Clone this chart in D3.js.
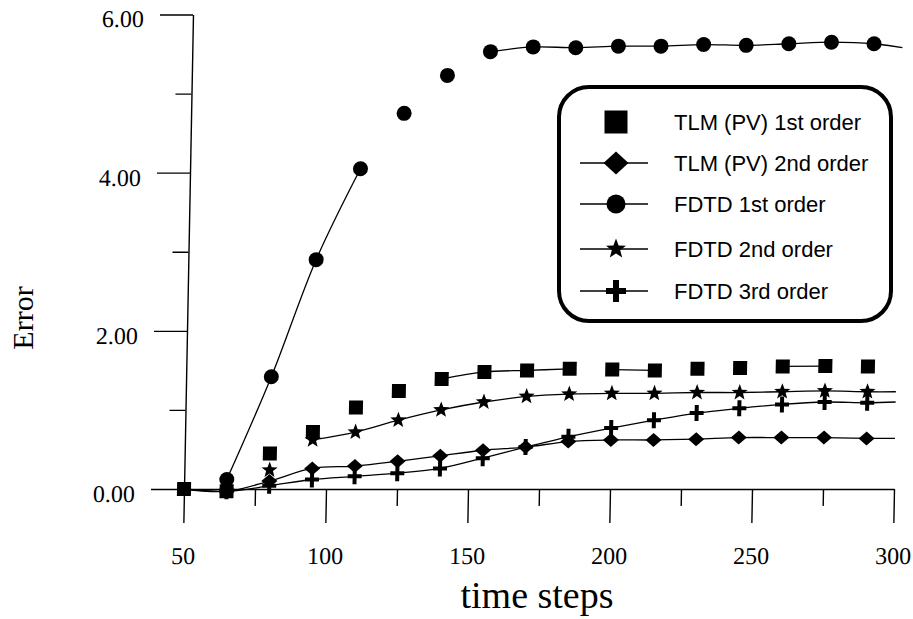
<!DOCTYPE html>
<html><head><meta charset="utf-8">
<script src="https://cdn.jsdelivr.net/npm/d3@7"></script>
<style>
html,body{margin:0;padding:0;background:#fff;}
svg{display:block;background:#fff;}
</style></head><body>
<svg id="chart" width="913" height="619"></svg>
<script>
// ---------------- data ----------------
const timeSteps = [50,65,80,95,110,125,140,155,170,185,200,215,230,245,260,275,290,300];
const tlm1  = [0,-0.03,0.45,0.72,1.03,1.24,1.39,1.48,1.50,1.52,1.51,1.50,1.52,1.53,1.55,1.555,1.55,1.55];
const tlm2  = [0,-0.03,0.10,0.26,0.29,0.35,0.42,0.49,0.53,0.60,0.62,0.62,0.63,0.65,0.65,0.65,0.64,0.64];
const fdtd1 = [0,0.12,1.42,2.90,4.05,4.75,5.23,5.53,5.59,5.58,5.60,5.60,5.62,5.61,5.63,5.65,5.63,5.58];
const fdtd2 = [0,-0.03,0.24,0.62,0.72,0.87,1.00,1.10,1.17,1.20,1.21,1.21,1.22,1.22,1.23,1.24,1.23,1.23];
const fdtd3 = [0,-0.03,0.04,0.12,0.16,0.20,0.26,0.39,0.53,0.66,0.77,0.87,0.96,1.02,1.07,1.10,1.09,1.10];
const seriesNames = ["TLM (PV) 1st order","TLM (PV) 2nd order","FDTD 1st order","FDTD 2nd order","FDTD 3rd order"];
// index ranges of the visible connecting line pieces (as printed)
const tlm1Runs  = [[6,9],[10,11],[14,15]];
const tlm2Runs  = [[0,17]];
const fdtd1Runs = [[1,4],[7,17]];
const fdtd2Runs = [[3,17]];
const fdtd3Runs = [[0,17]];
const markerFirst = [0,1,1,1,1];
const markerLast = 16;
const xTicksMajor = [50,100,150,200,250,300];
const xTicksMinor = [75,125,175,225,275];
const yTicksMajor = [0,2,4,6];
const yTicksMinor = [1,3,5];
const xTitle = "time steps";
const yTitle = "Error";

// ---------------- setup ----------------
const svg = d3.select("#chart");
const serif = "'Liberation Serif','Times New Roman',Times,serif";
const sans = "'Liberation Sans',Arial,Helvetica,sans-serif";

const x = d3.scaleLinear().domain([50,300]).range([184,894]);
const y = d3.scaleLinear().domain([0,6]).range([489,14.5]);

// scanned original is slightly sheared
const k = 9/475;
const skewDeg = Math.atan(k)*180/Math.PI;
const plot = svg.append("g")
  .attr("transform",`translate(${(y(0)*k).toFixed(2)},0) skewX(${(-skewDeg).toFixed(3)})`);

function styleAxis(g, size){
  g.attr("font-family", serif).attr("font-size", size);
  g.selectAll("path,line").attr("stroke","#000").attr("stroke-width",1.4);
  g.selectAll("text").attr("fill","#000");
}

// y axis
plot.append("g").attr("transform",`translate(${x(50)},0)`)
  .call(d3.axisLeft(y).tickValues(yTicksMajor).tickSize(33).tickSizeOuter(0).tickPadding(16).tickFormat(d3.format(".2f")))
  .call(g=>styleAxis(g,24))
  .call(g=>g.selectAll("text").attr("dy","0.52em"));
plot.append("g").attr("transform",`translate(${x(50)},0)`)
  .call(d3.axisLeft(y).tickValues(yTicksMinor).tickSize(16).tickFormat(""))
  .call(g=>g.select(".domain").remove())
  .call(g=>styleAxis(g,24));

// x axis
plot.append("g").attr("transform",`translate(0,${y(0)})`)
  .call(d3.axisBottom(x).tickValues(xTicksMajor).tickSize(34).tickSizeOuter(0).tickPadding(24).tickFormat(d3.format("d")))
  .call(g=>styleAxis(g,24));
plot.append("g").attr("transform",`translate(0,${y(0)})`)
  .call(d3.axisBottom(x).tickValues(xTicksMinor).tickSize(17).tickFormat(""))
  .call(g=>g.select(".domain").remove())
  .call(g=>styleAxis(g,24));

// ---------------- marker shapes ----------------
const shapes = {
  square: s => ({draw(c){ const h=s/2; c.rect(-h,-h,s,s);} }),
  diamond: (w,h) => ({draw(c){ c.moveTo(0,-h); c.lineTo(w,0); c.lineTo(0,h); c.lineTo(-w,0); c.closePath(); }}),
  circle: r => ({draw(c){ c.moveTo(r,0); c.arc(0,0,r,0,2*Math.PI); }}),
  star: R => ({draw(c){ const r=R*0.42; for(let i=0;i<10;i++){ const a=-Math.PI/2+i*Math.PI/5; const rr=i%2?r:R; const px=rr*Math.cos(a), py=rr*Math.sin(a); if(i===0) c.moveTo(px,py); else c.lineTo(px,py);} c.closePath(); }}),
  plus: (w,h,t) => ({draw(c){ c.moveTo(-t,-h); c.lineTo(t,-h); c.lineTo(t,-t); c.lineTo(w,-t); c.lineTo(w,t); c.lineTo(t,t); c.lineTo(t,h); c.lineTo(-t,h); c.lineTo(-t,t); c.lineTo(-w,t); c.lineTo(-w,-t); c.lineTo(-t,-t); c.closePath(); }})
};
const plotShapes = [shapes.square(14), shapes.diamond(8,7), shapes.circle(7.5), shapes.star(8.5), shapes.plus(7,8,2)];
const legendShapes = [shapes.square(23), shapes.diamond(12.5,11.5), shapes.circle(9.5), shapes.star(10.5), shapes.plus(10,11,3)];

const allSeries = [tlm1,tlm2,fdtd1,fdtd2,fdtd3];
const allRuns = [tlm1Runs,tlm2Runs,fdtd1Runs,fdtd2Runs,fdtd3Runs];

const line = vals => d3.line()
  .x(i=>x(timeSteps[i])).y(i=>y(vals[i]))
  .curve(d3.curveCatmullRom.alpha(0.5));

allSeries.forEach((vals,si)=>{
  const g = plot.append("g");
  allRuns[si].forEach(([a,b])=>{
    g.append("path").attr("d", line(vals)(d3.range(a,b+1)))
      .attr("fill","none").attr("stroke","#000").attr("stroke-width",1.3);
  });
  g.selectAll("path.m").data(d3.range(markerFirst[si], markerLast+1)).join("path")
    .attr("class","m")
    .attr("transform", i=>`translate(${x(timeSteps[i])},${y(vals[i])})`)
    .attr("d", d3.symbol().type(plotShapes[si]))
    .attr("fill","#000");
});

// ---------------- titles ----------------
svg.append("text").attr("x",537).attr("y",608).attr("text-anchor","middle")
  .attr("font-family",serif).attr("font-size",38).attr("fill","#000").text(xTitle);
svg.append("text").attr("transform","translate(33,318) rotate(-90)").attr("text-anchor","middle")
  .attr("font-family",serif).attr("font-size",30).attr("fill","#000").text(yTitle);

// ---------------- legend ----------------
const legend = svg.append("g");
legend.append("rect").attr("x",559).attr("y",87).attr("width",332).attr("height",234)
  .attr("rx",30).attr("ry",30).attr("fill","#fff").attr("stroke","#000").attr("stroke-width",4);
const legendRowY = [122,163,204,249,291];
seriesNames.forEach((name,i)=>{
  const yy = legendRowY[i];
  if(i>0){
    legend.append("line").attr("x1",580).attr("x2",648).attr("y1",yy).attr("y2",yy)
      .attr("stroke","#000").attr("stroke-width",1.3);
  }
  legend.append("path").attr("transform",`translate(616,${yy})`)
    .attr("d", d3.symbol().type(legendShapes[i])).attr("fill","#000");
  legend.append("text").attr("x",674).attr("y",yy).attr("dy","0.36em")
    .attr("font-family",sans).attr("font-size",22).attr("fill","#000").text(name);
});
</script>
</body></html>
